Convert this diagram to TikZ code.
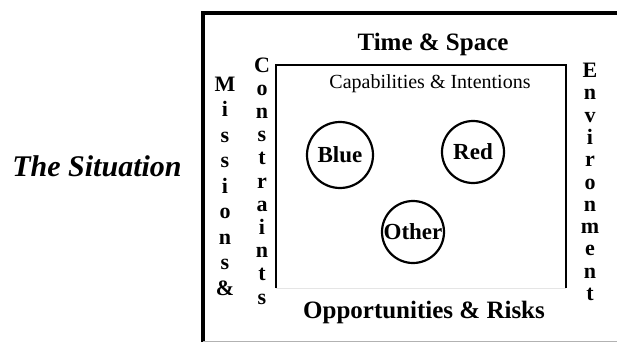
\documentclass[tikz,border=0pt]{standalone}
\usepackage{fontspec}
\setmainfont{Liberation Serif}
\begin{document}
\begin{tikzpicture}[x=1pt,y=-1pt,
  bigtitle/.style={font=\fontsize{25}{28}\selectfont\bfseries, inner sep=0pt},
  vertword/.style={align=center, inner sep=0pt},
  actor/.style={circle, draw, line width=2.2pt, minimum size=64pt, inner sep=0pt, font=\fontsize{23}{26}\selectfont\bfseries}]
\useasboundingbox (0,0) rectangle (617,342);
% outer frame
\coordinate (otl) at (203,13);
\coordinate (otr) at (617,13);
\coordinate (obl) at (203,342);
\coordinate (obr) at (617,341);
\draw[line width=3.5pt] (obl) -- (otl) -- (otr);
\draw[gray!60, line width=1pt] (203,341) -- (obr);
% inner frame
\coordinate (itl) at (276,65);
\coordinate (itr) at (566,65);
\coordinate (ibl) at (276,288);
\coordinate (ibr) at (566,288);
\draw[line width=1.5pt] (ibl) -- (itl) -- (itr) -- (ibr);
\draw[gray!20, line width=1pt] (ibl) -- (ibr);
% titles
\node[font=\fontsize{30}{34}\selectfont\bfseries\itshape, inner sep=0pt] (sit) at (97,166) {The Situation};
\node[bigtitle] (ts) at (433,44) {Time \& Space};
\node[bigtitle] (or) at (424,312) {Opportunities \& Risks};
\node[font=\fontsize{20}{24}\selectfont, inner sep=0pt] (ci) at (430,84) {Capabilities \& Intentions};
% vertical words
\node[vertword, font=\fontsize{22}{25.5}\selectfont\bfseries] (mis) at (225,186) {M\\i\\s\\s\\i\\o\\n\\s\\\&};
\node[vertword, font=\fontsize{22}{23.2}\selectfont\bfseries] (con) at (262,181) {C\\o\\n\\s\\t\\r\\a\\i\\n\\t\\s};
\node[vertword, font=\fontsize{22}{22.3}\selectfont\bfseries] (env) at (590,182) {E\\n\\v\\i\\r\\o\\n\\m\\e\\n\\t};
% actors
\node[actor, minimum size=66pt] (blue) at (340,155) {Blue};
\node[actor, minimum size=62pt] (red) at (473,152) {Red};
\node[actor, minimum size=62pt] (other) at (413,232) {Other};
\end{tikzpicture}
\end{document}
